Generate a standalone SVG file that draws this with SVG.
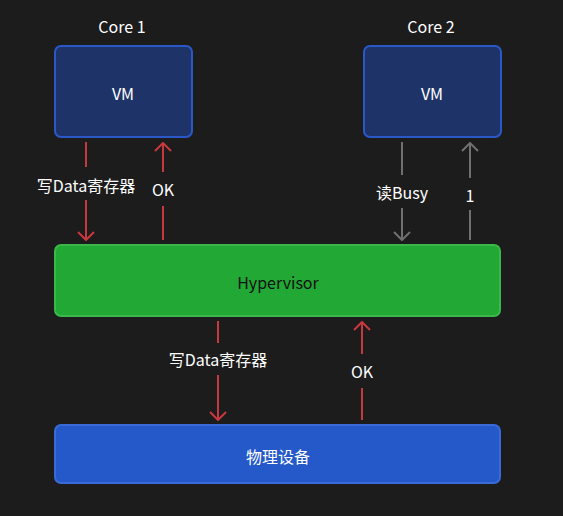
<svg xmlns="http://www.w3.org/2000/svg" width="563" height="516" viewBox="0 0 563 516">
<defs>
<style>
text{font-family:"Noto Sans CJK SC","Noto Sans",sans-serif;text-anchor:middle;dominant-baseline:central;font-size:16px}
.t{fill:#ffffff}
.lb{fill:#ffffff}
.vm{fill:#1e3468;stroke:#2b58c8;stroke-width:2}
.red{stroke:#c8393f;stroke-width:2;fill:none}
.gray{stroke:#707070;stroke-width:2;fill:none}
.bg{fill:#1c1c1c}
</style>
<marker id="ar" viewBox="0 0 12 18" refX="11" refY="9" markerWidth="12" markerHeight="18" markerUnits="userSpaceOnUse" orient="auto">
<path d="M3,1 L11,9 L3,17" fill="none" stroke="#c8393f" stroke-width="2"/>
</marker>
<marker id="ag" viewBox="0 0 12 18" refX="11" refY="9" markerWidth="12" markerHeight="18" markerUnits="userSpaceOnUse" orient="auto">
<path d="M3,1 L11,9 L3,17" fill="none" stroke="#707070" stroke-width="2"/>
</marker>
</defs>
<rect width="563" height="516" fill="#1c1c1c"/>
<g id="core1">
<text class="t" x="122" y="26">Core 1</text>
<rect class="vm" x="55" y="46" width="137" height="91" rx="6"/>
<text class="lb" x="123" y="93" font-size="15">VM</text>
</g>
<g id="core2">
<text class="t" x="431" y="26">Core 2</text>
<rect class="vm" x="364" y="46" width="137" height="91" rx="6"/>
<text class="lb" x="432" y="93" font-size="15">VM</text>
</g>
<g id="hypervisor">
<rect x="55" y="245" width="445" height="71" rx="6" fill="#22a834" stroke="#3cb84a" stroke-width="2"/>
<text x="278" y="282" fill="#111111">Hypervisor</text>
</g>
<g id="device">
<rect x="55" y="425" width="445" height="58" rx="6" fill="#2558c8" stroke="#3a6ad8" stroke-width="2"/>
<text class="lb" x="278" y="456">物理设备</text>
</g>
<g id="connectors">
<line class="red" x1="86" y1="142" x2="86" y2="240" marker-end="url(#ar)"/>
<rect class="bg" x="30" y="167" width="112" height="33"/>
<text class="lb" x="86" y="185">写Data寄存器</text>
<line class="red" x1="163" y1="240" x2="163" y2="143" marker-end="url(#ar)"/>
<rect class="bg" x="146" y="172" width="34" height="34"/>
<text class="lb" x="163" y="189">OK</text>
<line class="gray" x1="402" y1="142" x2="402" y2="240" marker-end="url(#ag)"/>
<rect class="bg" x="368" y="175" width="68" height="33"/>
<text class="lb" x="402" y="192">读Busy</text>
<line class="gray" x1="470" y1="240" x2="470" y2="143" marker-end="url(#ag)"/>
<rect class="bg" x="460" y="178" width="20" height="32"/>
<text class="lb" x="470" y="195">1</text>
<line class="red" x1="218" y1="321" x2="218" y2="420" marker-end="url(#ar)"/>
<rect class="bg" x="162" y="343" width="112" height="32"/>
<text class="lb" x="218" y="359">写Data寄存器</text>
<line class="red" x1="362" y1="420" x2="362" y2="322" marker-end="url(#ar)"/>
<rect class="bg" x="345" y="354" width="34" height="34"/>
<text class="lb" x="362" y="371">OK</text>
</g>
</svg>
